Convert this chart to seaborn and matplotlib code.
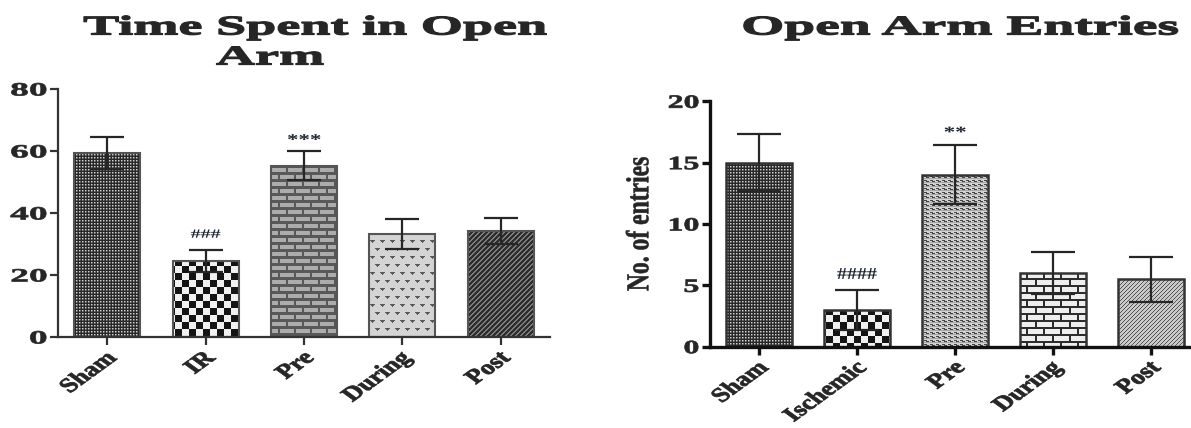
import numpy as np
import pandas as pd
import matplotlib
matplotlib.use("Agg")
import matplotlib.pyplot as plt
import seaborn as sns
from matplotlib import patheffects
from matplotlib.transforms import Affine2D

# ---- data -------------------------------------------------------------
time_groups = ["Sham", "IR", "Pre", "During", "Post"]
time_mean = [59.3, 24.5, 55.3, 33.2, 34.2]
time_sem = [5.1, 3.5, 4.7, 4.9, 4.2]
time_marks = ["", "###", "***", "", ""]
time_mark_y = [0, 33.0, 63.3, 0, 0]
time_ticks = [0, 20, 40, 60, 80]

entry_groups = ["Sham", "Ischemic", "Pre", "During", "Post"]
entry_mean = [15.0, 3.0, 14.0, 6.0, 5.5]
entry_sem = [2.3, 1.6, 2.4, 1.7, 1.85]
entry_marks = ["", "####", "**", "", ""]
entry_mark_y = [0, 5.85, 17.4, 0, 0]
entry_ticks = [0, 5, 10, 15, 20]

W, H = 1191, 428
SERIF = "Liberation Serif"

sns.set_style("ticks")
plt.rcParams["font.family"] = [SERIF, "DejaVu Serif"]
plt.rcParams["font.weight"] = "bold"


class Widen(patheffects.AbstractPathEffect):
    """Draw text glyphs stretched horizontally, optionally with a thin outline."""

    def __init__(self, sx, anchor="center", stroke=0.0):
        super().__init__()
        self.sx = sx
        self.anchor = anchor
        self.stroke = stroke

    def draw_path(self, renderer, gc, tpath, affine, rgbFace=None):
        if len(tpath.vertices) == 0:
            return
        pts = affine.transform(tpath.vertices)
        x0, x1 = pts[:, 0].min(), pts[:, 0].max()
        cx = {"left": x0, "center": 0.5 * (x0 + x1), "right": x1}[self.anchor]
        extra = Affine2D().translate(-cx, 0).scale(self.sx, 1).translate(cx, 0)
        gc0 = renderer.new_gc()
        gc0.copy_properties(gc)
        if self.stroke > 0 and rgbFace is not None:
            gc0.set_linewidth(self.stroke)
            gc0.set_foreground(rgbFace)
            gc0.set_joinstyle("round")
        renderer.draw_path(gc0, tpath, affine + extra, rgbFace)
        gc0.restore()


# ---- fill textures (grey levels, one tile each) -----------------------
def tile_dots():
    return np.array([[40, 40, 40], [40, 210, 120], [40, 120, 80]])


def tile_checker(n=7, a=20, b=240):
    t = np.full((2 * n, 2 * n), b)
    t[:n, :n] = a
    t[n:, n:] = a
    return t


def tile_bricks(w, h, mh, mw, brick, mortar):
    t = np.full((2 * h, w), brick)
    t[h - mh:h, :] = mortar
    t[2 * h - mh:, :] = mortar
    t[:h, w - mw:] = mortar
    t[h:, w // 2 - mw:w // 2] = mortar
    return t


def tile_triangles(px, py, bg, fg):
    t = np.full((2 * py, px), bg)
    for r0, x0 in ((0, 0), (py, px // 2)):
        t[r0, x0:x0 + 5] = fg
        t[r0 + 1, x0 + 1:x0 + 4] = fg
        t[r0 + 2, x0 + 2] = fg
    return t


def tile_stripes(period, width, bg, fg):
    t = np.full((period, period), bg)
    for r in range(period):
        for c in range(period):
            if (r + c) % period < width:
                t[r, c] = fg
    return t


def tile_waves():
    t = np.full((4, 6), 210)
    t[0, [0, 1, 2]] = 70
    t[1, [2, 3, 4]] = 70
    t[2, :] = 165
    return t


def to_rgba(tile):
    t = np.asarray(tile, dtype=float) / 255.0
    reps = (H // t.shape[0] + 1, W // t.shape[1] + 1)
    g = np.tile(t, reps)[:H, :W]
    return np.dstack([g, g, g, np.ones_like(g)])


time_fills = [tile_dots(), tile_checker(7),
              tile_bricks(16, 7, 3, 2, 172, 88),
              tile_triangles(10, 8, 212, 90),
              tile_stripes(5, 2, 45, 125)]
entry_fills = [tile_dots(), tile_checker(7),
               tile_waves(),
               tile_bricks(17, 7, 2, 2, 238, 45),
               tile_stripes(4, 1, 200, 85)]

fig = plt.figure(figsize=(W / 100, H / 100), dpi=100)
ax1 = fig.add_axes([58 / W, 91 / H, 492 / W, 248 / H])
ax2 = fig.add_axes([710 / W, 81.3 / H, 490 / W, 245.4 / H])


def panel(ax, groups, mean, sem, marks, mark_y, ticks, fills, edge, lw,
          capsize, spine_color, spine_lw, mark_sizes, ytick_sx):
    df = pd.DataFrame({"group": groups, "value": mean})
    sns.barplot(data=df, x="group", y="value", order=groups, ax=ax,
                width=0.67, errorbar=None, facecolor="none",
                edgecolor=edge, linewidth=lw, zorder=2)
    ax.errorbar(np.arange(len(groups)), mean, yerr=sem, fmt="none",
                ecolor="#262626", elinewidth=1.6, capsize=capsize,
                capthick=1.6, zorder=3)
    for bar, tile in zip(ax.patches, fills):
        im = fig.figimage(to_rgba(tile), xo=0, yo=0, origin="upper",
                          zorder=-1)
        im.set_clip_path(bar)
    for i, (m, y) in enumerate(zip(marks, mark_y)):
        if m:
            fs, sx = mark_sizes[m.count("#") > 0]
            ax.text(i, y, m, ha="center", va="center", fontsize=fs,
                    fontweight="bold", color="#1c2433",
                    path_effects=[Widen(sx)])
    ax.set_facecolor("none")
    ax.set_xlim(-0.5, len(groups) - 0.5)
    ax.set_ylim(ticks[0], ticks[-1])
    ax.set_yticks(ticks)
    ax.set_xlabel("")
    ax.set_ylabel("")
    sns.despine(ax=ax)
    for s in ("left", "bottom"):
        ax.spines[s].set_color(spine_color)
        ax.spines[s].set_linewidth(spine_lw)
    ax.tick_params(axis="both", direction="out", length=6, width=spine_lw,
                   color=spine_color, labelsize=13.5)
    ax.tick_params(axis="y", pad=2)
    ax.tick_params(axis="x", pad=2)
    for lbl in ax.get_yticklabels():
        lbl.set_fontweight("bold")
        lbl.set_path_effects([Widen(ytick_sx, "right", stroke=0.5)])
    ax.set_xticks(range(len(groups)))
    ax.set_xticklabels(groups, rotation=45, ha="right",
                       rotation_mode="anchor", fontsize=14.5,
                       fontweight="bold")
    for lbl in ax.get_xticklabels():
        lbl.set_path_effects([Widen(1.38, "right", stroke=0.6)])


panel(ax1, time_groups, time_mean, time_sem, time_marks, time_mark_y,
      time_ticks, time_fills, "#555555", 1.5, 12, "#333333", 1.6,
      {True: (9, 1.6), False: (11, 1.5)}, 2.0)
panel(ax2, entry_groups, entry_mean, entry_sem, entry_marks, entry_mark_y,
      entry_ticks, entry_fills, "#333333", 1.8, 15.5, "#111111", 2.4,
      {True: (12, 1.2), False: (11, 1.5)}, 1.7)

ax2.set_ylabel("No. of entries", fontsize=17, fontweight="bold")
ax2.yaxis.set_label_coords(-0.143, 0.5)
ax2.yaxis.label.set_va("center")
ax2.yaxis.label.set_path_effects([Widen(1.35, stroke=0.4)])

title_kw = dict(fontsize=19.5, fontweight="bold", ha="center", va="center",
                family=[SERIF, "DejaVu Serif"])
fig.text(315 / W, 1 - 28 / H, "Time Spent in Open",
         path_effects=[Widen(2.0, stroke=0.9)], **title_kw)
fig.text(270 / W, 1 - 58 / H, "Arm",
         path_effects=[Widen(2.0, stroke=0.9)], **title_kw)
fig.text(960 / W, 1 - 28 / H, "Open Arm Entries",
         path_effects=[Widen(2.05, stroke=0.9)], **title_kw)

fig.savefig("out.png", dpi=100)
